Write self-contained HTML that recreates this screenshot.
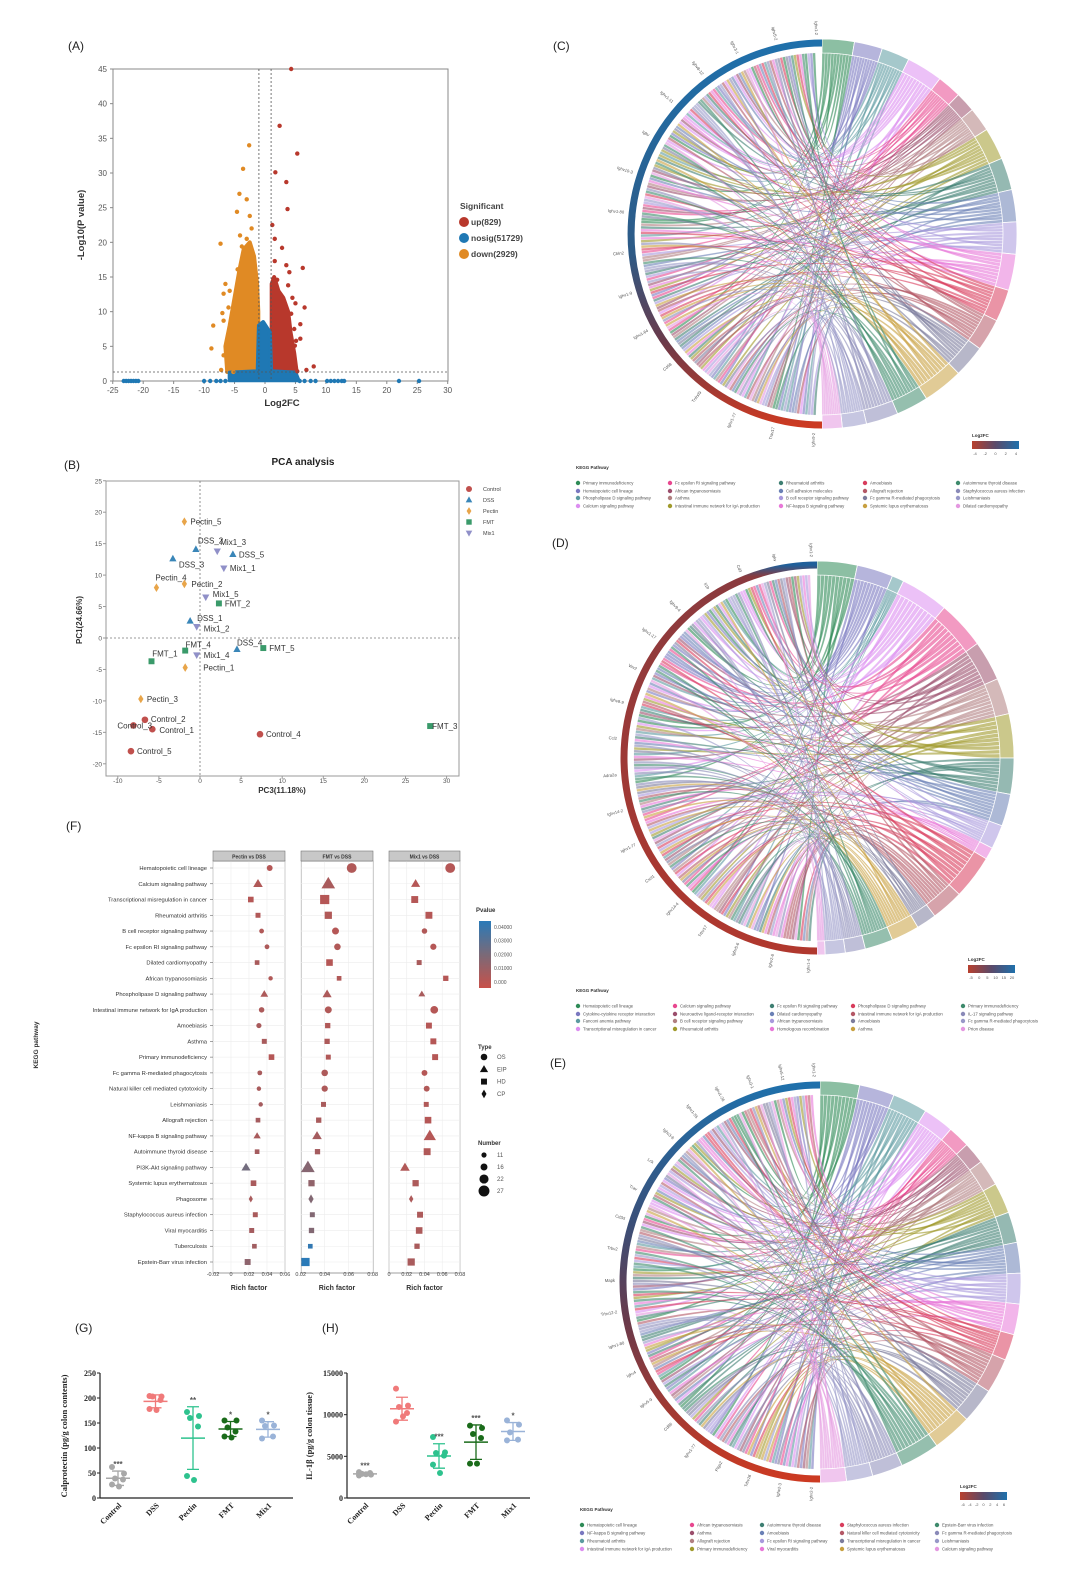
<!DOCTYPE html>
<html><head><meta charset="utf-8">
<style>
html,body{margin:0;padding:0;background:#fff;}
svg{display:block;font-family:"Liberation Sans",sans-serif;}
</style></head>
<body>
<svg id="fig" width="1080" height="1579" viewBox="0 0 1080 1579" xmlns="http://www.w3.org/2000/svg">
<defs>
<linearGradient id="gC" x1="0" y1="0" x2="0" y2="1"><stop offset="0" stop-color="#1f70ab"/><stop offset="0.55" stop-color="#2d5a86"/><stop offset="0.78" stop-color="#6a3a4a"/><stop offset="1" stop-color="#cc3a22"/></linearGradient>
<linearGradient id="gD" x1="0" y1="0" x2="0" y2="1"><stop offset="0" stop-color="#1f5f9a"/><stop offset="0.03" stop-color="#8a3a3e"/><stop offset="1" stop-color="#b0382e"/></linearGradient>
<linearGradient id="gE" x1="0" y1="0" x2="0" y2="1"><stop offset="0" stop-color="#1f70ab"/><stop offset="0.35" stop-color="#3a4f78"/><stop offset="0.6" stop-color="#6a3a4a"/><stop offset="1" stop-color="#cc3a22"/></linearGradient>
<linearGradient id="cbH" x1="0" y1="0" x2="1" y2="0"><stop offset="0" stop-color="#b8402e"/><stop offset="0.5" stop-color="#5a4a6a"/><stop offset="1" stop-color="#1f70ab"/></linearGradient>
<linearGradient id="cbV" x1="0" y1="1" x2="0" y2="0"><stop offset="0" stop-color="#c8514a"/><stop offset="0.5" stop-color="#7a6a78"/><stop offset="1" stop-color="#2a7ab8"/></linearGradient>
</defs>
<text x="68" y="50" font-size="12" fill="#222">(A)</text>
<text x="553" y="50" font-size="12" fill="#222">(C)</text>
<text x="64" y="469" font-size="12" fill="#222">(B)</text>
<text x="552" y="547" font-size="12" fill="#222">(D)</text>
<text x="66" y="830" font-size="12" fill="#222">(F)</text>
<text x="550" y="1067" font-size="12" fill="#222">(E)</text>
<text x="75" y="1332" font-size="12" fill="#222">(G)</text>
<text x="322" y="1332" font-size="12" fill="#222">(H)</text>
<g id="volcano"></g>
<g id="pca"></g>
<g id="chordC"></g>
<g id="chordD"></g>
<g id="chordE"></g>
<g id="kegg"></g>
<g id="calpro"></g>
<g id="il1b"></g>
</svg>
<script>
const NS='http://www.w3.org/2000/svg';
function mk(t,a,p){const e=document.createElementNS(NS,t);for(const k in a)e.setAttribute(k,a[k]);if(p)p.appendChild(e);return e;}
function tx(s,a,p){const e=mk('text',a,p);e.textContent=s;return e;}

/* ---------------- Volcano data ---------------- */
const volUpX=[4.3,2.4,5.3,1.7,3.5,3.7,1.2,1.6,2.8,1.6,3.5,6.2,4.0,2.0,3.8,4.5,5.0,6.5,4.3,5.8,4.8,5.8,5.1,4.9,6.8,8.0,5.3];
const volUpY=[45,36.8,32.8,30.1,28.7,24.8,22.5,20.5,19.2,17.3,16.7,16.3,15.7,14.6,13.8,12.0,11.2,10.6,9.7,8.2,7.5,6.1,5.8,5.1,1.6,2.1,1.4];
const volDownX=[-2.6,-3.6,-4.2,-3.0,-4.6,-2.5,-7.3,-3.8,-4.5,-6.5,-5.8,-6.8,-6.0,-7.0,-8.5,-6.8,-8.8,-6.8,-7.2,-5.2,-3.0,-2.2,-4.1];
const volDownY=[34,30.6,27,26.2,24.4,23.8,19.8,19.4,16.1,14.0,13.0,12.6,10.6,9.8,8.0,8.7,4.7,3.7,1.6,1.3,20.5,22.0,21.0];
const volNsX=[-23.2,-22.8,-22.4,-22,-21.6,-21.2,-20.8,-10,-9,-8,-7.3,-6.5,5.7,6.5,7.5,8.3,10.2,10.8,11.4,12,12.6,13,22,25.3];
const volNsY=[0,0,0,0,0,0,0,0,0,0,0,0,0,0,0,0,0,0,0,0,0,0,0,0];
const volDownAreaX=[-6.2,-6.5,-5.8,-5,-4.2,-3.5,-2.5,-1.8,-1.3,-1.1,-1.1];
const volDownAreaY=[1.3,5,8,12,16,19,20,18,14,10,1.3];
const volUpAreaX=[1.1,1.1,1.5,2.2,3,3.8,4.2,4.8,5.2];
const volUpAreaY=[1.3,14,15,13,12,10,7,4,1.3];
const volNsAreaX=[-5.8,-5.8,-1.2,-1,-0.3,0.8,1,5,5.5];
const volNsAreaY=[0.1,1.2,1.4,8,8.5,7,1.4,1.2,0.1];
const volXTicks=[-25,-20,-15,-10,-5,0,5,10,15,20,25,30];
const volYTicks=[0,5,10,15,20,25,30,35,40,45];
(function(){
 const g=document.getElementById('volcano');
 const X=v=>265+v*6.09, Y=v=>381-v*(312/45);
 const C_UP='#b8382c',C_DN='#e08a24',C_NS='#1f78b4';
 const fr=mk('rect',{x:113,y:69,width:335,height:312,fill:'none',stroke:'#888','stroke-width':1},g);
 
 
 volXTicks.forEach(t=>{const l=tx(String(t),{x:X(t),y:393,'font-size':8,'text-anchor':'middle',fill:'#555'},g);
  
  
  mk('line',{x1:X(t),x2:X(t),y1:381,y2:384,stroke:'#888'},g);});
 volYTicks.forEach(t=>{const l=tx(String(t),{x:107,y:Y(t)+3,'font-size':8,'text-anchor':'end',fill:'#555'},g);
  
  
  mk('line',{x1:110,x2:113,y1:Y(t),y2:Y(t),stroke:'#888'},g);});
 const xt=tx('Log2FC',{x:282,y:406,'font-size':9.5,'font-weight':'bold','text-anchor':'middle',fill:'#333'},g);
 
 
 const yt=tx('-Log10(P value)',{x:0,y:0,'font-size':9.5,'font-weight':'bold','text-anchor':'middle',fill:'#333',transform:'translate(84,225) rotate(-90)'},g);
 
 
 function area(xs,ys,c,nm){const pts=xs.map((x,i)=>X(x)+','+Y(ys[i])).join(' ');
  const p=mk('polygon',{points:pts,fill:c,stroke:c,'stroke-width':4,'stroke-linejoin':'round'},g);
  
  }
 area(volDownAreaX,volDownAreaY,C_DN,'down-density');
 area(volUpAreaX,volUpAreaY,C_UP,'up-density');
 area(volNsAreaX,volNsAreaY,C_NS,'nosig-density');
 function pts(xs,ys,c,nm){xs.forEach((x,i)=>{const d=mk('circle',{cx:X(x),cy:Y(ys[i]),r:2.2,fill:c},g);
  
  });}
 pts(volDownX,volDownY,C_DN,'down-point');pts(volUpX,volUpY,C_UP,'up-point');pts(volNsX,volNsY,C_NS,'nosig-point');
 [-1,1].forEach(v=>mk('line',{x1:X(v),x2:X(v),y1:69,y2:381,stroke:'#555','stroke-dasharray':'2,2','stroke-width':0.8},g));
 mk('line',{x1:113,x2:448,y1:Y(1.3),y2:Y(1.3),stroke:'#555','stroke-dasharray':'2,2','stroke-width':0.8},g);
 const lt=tx('Significant',{x:460,y:209,'font-size':8.5,'font-weight':'bold',fill:'#444'},g);
 
 
 [['up(829)',C_UP],['nosig(51729)',C_NS],['down(2929)',C_DN]].forEach((it,i)=>{
  const c=mk('circle',{cx:464,cy:222+i*16,r:5,fill:it[1]},g);
  
  
  const t=tx(it[0],{x:471,y:225+i*16,'font-size':8.5,'font-weight':'bold',fill:'#444'},g);
  
  });
})();

/* ---------------- PCA data ---------------- */
const pcaNames=['Control_1','Control_2','Control_3','Control_4','Control_5','DSS_1','DSS_2','DSS_3','DSS_4','DSS_5','Pectin_1','Pectin_2','Pectin_3','Pectin_4','Pectin_5','FMT_1','FMT_2','FMT_3','FMT_4','FMT_5','Mix1_1','Mix1_2','Mix1_3','Mix1_4','Mix1_5'];
const pcaGroup=[0,0,0,0,0,1,1,1,1,1,2,2,2,2,2,3,3,3,3,3,4,4,4,4,4];
const pcaX=[-5.8,-6.7,-8.1,7.3,-8.4,-1.2,-0.5,-3.3,4.5,4.0,-1.8,-1.9,-7.2,-5.3,-1.9,-1.8,2.3,28,-5.9,7.7,2.9,-0.4,2.1,-0.4,0.7];
const pcaY=[-14.5,-13,-13.9,-15.3,-18,2.7,14.1,12.6,-1.8,13.3,-4.7,8.6,-9.7,8,18.5,-2,5.5,-14,-3.7,-1.6,11.1,1.8,13.8,-2.7,6.5];
const pcaGroups=['Control','DSS','Pectin','FMT','Mix1'];
const pcaXTicks=[-10,-5,0,5,10,15,20,25,30];
const pcaYTicks=[-20,-15,-10,-5,0,5,10,15,20,25];
const pcaLabDx=[7,6,-16,6,6,7,2,6,0,6,18,7,6,-1,6,-33,6,2,34,6,6,7,3,7,7];
const pcaLabDy=[1,-1,0,0,0,-3,-9,6,-7,0,0,0,0,-10,0,3,0,0,-17,0,0,2,-9,0,-3];
(function(){
 const g=document.getElementById('pca');
 const X=v=>200+v*8.22, Y=v=>638-v*6.29;
 const cols=['#c0504d','#3a86b8','#e8a54a','#3a9a6a','#9090c8'];
 const fr=mk('rect',{x:106,y:481,width:353,height:295,fill:'none',stroke:'#999','stroke-width':1},g);
 
 
 const tt=tx('PCA analysis',{x:303,y:465,'font-size':10,'font-weight':'bold','text-anchor':'middle',fill:'#222'},g);
 
 
 pcaXTicks.forEach(t=>{const l=tx(String(t),{x:X(t),y:783,'font-size':6.5,'text-anchor':'middle',fill:'#555'},g);
  
  
  mk('line',{x1:X(t),x2:X(t),y1:776,y2:779,stroke:'#999'},g);});
 pcaYTicks.forEach(t=>{const l=tx(String(t),{x:102,y:Y(t)+2.5,'font-size':6.5,'text-anchor':'end',fill:'#555'},g);
  
  
  mk('line',{x1:103,x2:106,y1:Y(t),y2:Y(t),stroke:'#999'},g);});
 mk('line',{x1:X(0),x2:X(0),y1:481,y2:776,stroke:'#777','stroke-dasharray':'2,2','stroke-width':0.8},g);
 mk('line',{x1:106,x2:459,y1:Y(0),y2:Y(0),stroke:'#777','stroke-dasharray':'2,2','stroke-width':0.8},g);
 const xt=tx('PC3(11.18%)',{x:282,y:793,'font-size':8,'font-weight':'bold','text-anchor':'middle',fill:'#333'},g);
 
 
 const yt=tx('PC1(24.66%)',{x:0,y:0,'font-size':8,'font-weight':'bold','text-anchor':'middle',fill:'#333',transform:'translate(82,620) rotate(-90)'},g);
 
 
 function marker(k,x,y,s,par){const c=cols[k];let e;
  if(k===0)e=mk('circle',{cx:x,cy:y,r:s,fill:c},par);
  else if(k===1)e=mk('polygon',{points:`${x},${y-s*1.2} ${x-s*1.1},${y+s*0.8} ${x+s*1.1},${y+s*0.8}`,fill:c},par);
  else if(k===2)e=mk('polygon',{points:`${x},${y-s*1.3} ${x-s*0.8},${y} ${x},${y+s*1.3} ${x+s*0.8},${y}`,fill:c},par);
  else if(k===3)e=mk('rect',{x:x-s*0.9,y:y-s*0.9,width:s*1.8,height:s*1.8,fill:c},par);
  else e=mk('polygon',{points:`${x},${y+s*1.2} ${x-s*1.1},${y-s*0.8} ${x+s*1.1},${y-s*0.8}`,fill:c},par);
  return e;}
 pcaNames.forEach((n,i)=>{const px=X(pcaX[i]),py=Y(pcaY[i]);
  const m=marker(pcaGroup[i],px,py,3.3,g);
  
  
  const l=tx(n,{x:px+pcaLabDx[i],y:py+pcaLabDy[i]+3,'font-size':8,fill:'#333'},g);
  
  });
 pcaGroups.forEach((n,k)=>{const m=marker(k,469,489+k*11,3,g);
  
  
  const t=tx(n,{x:483,y:491+k*11,'font-size':5.5,fill:'#444'},g);
  
  });
})();

/* ---------------- Chord diagrams ---------------- */
const segColors=['#2e8b57','#7a78c0','#5b9aa0','#dc8ef0','#e8478f','#9b4e6c','#b07f80','#a09a2c','#3e7f72','#6a80b5','#a898dc','#e878d8','#d83c5c','#b45866','#7c7c9c','#c8a040','#3e8a6c','#8a8ab8','#9898c8','#e498e0'];
const segWeightsC=[8,7,7,9,6,5,6,8,8,8,8,9,8,8,8,10,8,8,6,5];
const segWeightsD=[10,9,3,12,12,10,9,11,9,8,6,3,11,8,5,7,7,5,5,2];
const segWeightsE=[9,8,8,7,5,5,6,7,7,7,7,7,6,8,8,9,9,7,6,6];
const legC=[['Primary immunodeficiency','Hematopoietic cell lineage','Phospholipase D signaling pathway','Calcium signaling pathway'],['Fc epsilon RI signaling pathway','African trypanosomiasis','Asthma','Intestinal immune network for IgA production'],['Rheumatoid arthritis','Cell adhesion molecules','B cell receptor signaling pathway','NF-kappa B signaling pathway'],['Amoebiasis','Allograft rejection','Fc gamma R-mediated phagocytosis','Systemic lupus erythematosus'],['Autoimmune thyroid disease','Staphylococcus aureus infection','Leishmaniasis','Dilated cardiomyopathy']];
const legD=[['Hematopoietic cell lineage','Cytokine-cytokine receptor interaction','Fanconi anemia pathway','Transcriptional misregulation in cancer'],['Calcium signaling pathway','Neuroactive ligand-receptor interaction','B cell receptor signaling pathway','Rheumatoid arthritis'],['Fc epsilon RI signaling pathway','Dilated cardiomyopathy','African trypanosomiasis','Homologous recombination'],['Phospholipase D signaling pathway','Intestinal immune network for IgA production','Amoebiasis','Asthma'],['Primary immunodeficiency','IL-17 signaling pathway','Fc gamma R-mediated phagocytosis','Prion disease']];
const legE=[['Hematopoietic cell lineage','NF-kappa B signaling pathway','Rheumatoid arthritis','Intestinal immune network for IgA production'],['African trypanosomiasis','Asthma','Allograft rejection','Primary immunodeficiency'],['Autoimmune thyroid disease','Amoebiasis','Fc epsilon RI signaling pathway','Viral myocarditis'],['Staphylococcus aureus infection','Natural killer cell mediated cytotoxicity','Transcriptional misregulation in cancer','Systemic lupus erythematosus'],['Epstein-Barr virus infection','Fc gamma R-mediated phagocytosis','Leishmaniasis','Calcium signaling pathway']];
const genesC=['Ighv1-2','Ighv5-2','Ighv3-1','Ighv8-12','Ighv1-11','Igkv','Ighv10-3','Ighv1-80','Cbln2','Ighv1-9','Ighv1-64','Cd68','Tnfrsf9','Ighv1-77','Trav17','Ighv9-2'];
const genesD=['Ighv1-2','Igkv','Cd3','Il1b','Ighv9-4','Ighv1-17','Vav2','Ighv8-9','Ccl2','Adra2a','Ighv14-2','Ighv1-77','Cxcl1','Ighv14-4','Trbv17','Ighv5-6','Ighv2-6','Ighv1-4'];
const genesE=['Ighv1-2','Ighv5-12','Ighv3-1','Ighv1-26','Ighv1-55','Ighv3-6','Lck','Trav','Cd3d','Trbv2','Mapk','Trbv12-2','Ighv1-80','Igkv4','Ighv5-9','Cd86','Ighv1-77','Ptgs2','Trbv16','Ighv2-3','Ighv2-2'];
function chord(id,cx,cy,r,grad,weights,seed,legend,legX,legY,genes,cb){
 const g=document.getElementById(id);
 let s=seed;const rnd=()=>{s=(s*1103515245+12345)%2147483648;return s/2147483648;};
 const P=(a,rad)=>[cx+rad*Math.sin(a*Math.PI/180),cy-rad*Math.cos(a*Math.PI/180)];
 const ri=r-14;
 const tot=weights.reduce((a,b)=>a+b,0);
 const segs=[];let a=0;
 weights.forEach((w,i)=>{const sp=w/tot*180;segs.push([a,a+sp,segColors[i%segColors.length]]);a+=sp;});
 const subs=[];
 segs.forEach(sg=>{const m=10;for(let k=0;k<m;k++){const s1=sg[0]+(sg[1]-sg[0])*(k+0.1)/m,s2=sg[0]+(sg[1]-sg[0])*(k+0.9)/m;subs.push([s1,s2,sg[2],rnd()]);}});
 const order=subs.slice().sort((p,q)=>p[3]-q[3]);
 const lw=(358-182)/order.length;
 const rg=mk('g',{},g);
 
 
 const cr=ri*0.3;
 order.forEach((sb,j)=>{const b1=182+j*lw,b2=b1+lw*0.8;
  const am=(sb[0]+sb[1])/2, bm=(b1+b2)/2;
  const A1=P(sb[0],ri),A2=P(sb[1],ri),B1=P(b1,ri),B2=P(b2,ri);
  const CA=P(am,cr),CB=P(bm,cr);
  const d=`M${A1} A${ri},${ri} 0 0 1 ${A2} C${CA} ${CB} ${B1} A${ri},${ri} 0 0 1 ${B2} C${CB} ${CA} ${A1}Z`;
  const p=mk('path',{d:d,fill:sb[2],'fill-opacity':0.6,stroke:sb[2],'stroke-opacity':0.35,'stroke-width':0.3},rg);
  
  });
 segs.forEach(sg=>{const o1=P(sg[0],r),o2=P(sg[1],r),i1=P(sg[0],ri),i2=P(sg[1],ri);
  const p=mk('path',{d:`M${o1} A${r},${r} 0 0 1 ${o2} L${i2} A${ri},${ri} 0 0 0 ${i1}Z`,fill:sg[2],'fill-opacity':0.55,stroke:'#fff','stroke-width':0.8},g);
  
  });
 const t0=P(180,r-4),t1=P(360,r-4);
 const ga=mk('path',{d:`M${t0} A${r-4},${r-4} 0 0 1 ${t1}`,fill:'none',stroke:`url(#${grad})`,'stroke-width':7},g);
 
 
 genes.forEach((n,i)=>{const ang=358-i*(176/(genes.length-1));const q=P(ang,r+4);
  const t=tx(n,{x:q[0],y:q[1],'font-size':4.2,fill:'#555','text-anchor':'end',transform:`rotate(${ang+90} ${q[0]} ${q[1]})`},g);
  
  });
 const kt=tx('KEGG Pathway',{x:legX[0]-2,y:legY[0]-14,'font-size':4.5,'font-weight':'bold',fill:'#333'},g);
 
 
 legend.forEach((col,c)=>col.forEach((n,rw)=>{const x=legX[c],y=legY[rw];
  const d=mk('circle',{cx:x,cy:y,r:2.2,fill:segColors[(c*4+rw)%segColors.length]},g);
  
  
  const t=tx(n,{x:x+5,y:y+1.6,'font-size':4.3,fill:'#555'},g);
  
  }));
 const lt=tx('Log2FC',{x:cb[0],y:cb[1]-4,'font-size':4.5,'font-weight':'bold',fill:'#333'},g);
 
 
 const bar=mk('rect',{x:cb[0],y:cb[1],width:47,height:8,fill:'url(#cbH)'},g);
 
 
 cb[2].forEach((l,i)=>{const t=tx(l,{x:cb[0]+3+i*(41/(cb[2].length-1)),y:cb[1]+14,'font-size':4,'text-anchor':'middle',fill:'#555'},g);
  
  });
}
chord('chordC',822,234,195,'gC',segWeightsC,7,legC,[578,670,781,865,958],[483,491,498,506],genesC,[972,441,['-4','-2','0','2','4']]);
chord('chordD',817,758,197,'gD',segWeightsD,19,legD,[578,675,772,853,963],[1006,1014,1021,1029],genesD,[968,965,['-5','0','5','10','15','20']]);
chord('chordE',820,1282,201,'gE',segWeightsE,31,legE,[582,692,762,842,937],[1525,1533,1541,1549],genesE,[960,1492,['-6','-4','-2','0','2','4','6']]);

/* ---------------- KEGG enrichment dot plot ---------------- */
const keggPathways=['Hematopoietic cell lineage','Calcium signaling pathway','Transcriptional misregulation in cancer','Rheumatoid arthritis','B cell receptor signaling pathway','Fc epsilon RI signaling pathway','Dilated cardiomyopathy','African trypanosomiasis','Phospholipase D signaling pathway','Intestinal immune network for IgA production','Amoebiasis','Asthma','Primary immunodeficiency','Fc gamma R-mediated phagocytosis','Natural killer cell mediated cytotoxicity','Leishmaniasis','Allograft rejection','NF-kappa B signaling pathway','Autoimmune thyroid disease','PI3K-Akt signaling pathway','Systemic lupus erythematosus','Phagosome','Staphylococcus aureus infection','Viral myocarditis','Tuberculosis','Epstein-Barr virus infection'];
const rfPectin=[0.043,0.030,0.022,0.030,0.034,0.040,0.029,0.044,0.037,0.034,0.031,0.037,0.045,0.032,0.031,0.033,0.030,0.029,0.029,0.0167,0.025,0.022,0.027,0.023,0.026,0.0185];
const rfFMT=[0.0625,0.043,0.040,0.043,0.049,0.0506,0.044,0.052,0.042,0.043,0.0425,0.042,0.043,0.040,0.040,0.039,0.035,0.0336,0.034,0.026,0.029,0.0286,0.0297,0.029,0.028,0.024];
const rfMix1=[0.069,0.030,0.029,0.045,0.040,0.050,0.034,0.064,0.037,0.051,0.045,0.050,0.052,0.040,0.0425,0.042,0.044,0.046,0.043,0.018,0.030,0.025,0.035,0.034,0.0316,0.025];
const typePectin=['c','t','s','s','c','c','s','c','t','c','c','s','s','c','c','c','s','t','s','t','s','d','s','s','s','s'];
const typeFMT=['c','t','s','s','c','c','s','s','t','c','s','s','s','c','c','s','s','t','s','t','s','d','s','s','s','s'];
const typeMix1=['c','t','s','s','c','c','s','s','t','c','s','s','s','c','c','s','s','t','s','t','s','d','s','s','s','s'];
const numPectin=[13,18,14,12,10,10,11,9,14,12,11,12,14,10,9,9,11,13,11,17,14,12,12,12,11,15];
const numFMT=[24,27,25,19,16,15,17,11,17,16,13,13,12,15,14,12,13,18,13,27,16,16,12,13,11,22];
const numMix1=[24,17,18,18,12,14,12,13,12,18,15,15,15,13,13,12,17,24,18,18,16,13,15,17,13,19];
const pvPectin=[.005,.006,.005,.006,.006,.007,.008,.006,.007,.007,.008,.008,.005,.008,.008,.009,.009,.008,.009,.022,.008,.008,.008,.009,.010,.015];
const pvFMT=[.006,.008,.005,.006,.005,.006,.005,.006,.007,.006,.006,.007,.006,.007,.007,.008,.008,.009,.009,.017,.014,.018,.018,.018,.038,.040];
const pvMix1=[.005,.005,.005,.005,.006,.005,.008,.005,.008,.005,.005,.005,.005,.005,.006,.006,.005,.005,.006,.006,.007,.007,.007,.007,.008,.008];
const panelTitles=['Pectin vs DSS','FMT vs DSS','Mix1 vs DSS'];
const panelTicks1=[-0.02,0,0.02,0.04,0.06];
const panelTicks2=[0.02,0.04,0.06,0.08];
const panelTicks3=[0,0.02,0.04,0.06,0.08];
const pvLegendTicks=['0.04000','0.03000','0.02000','0.01000','0.000'];
const typeLegend=['OS','EIP','HD','CP'];
const numLegend=[11,16,22,27];
(function(){
 const g=document.getElementById('kegg');
 const top=861,bot=1273,row0=868,rowH=15.76;
 const rowY=i=>row0+i*rowH;
 const rad=n=>0.6+n*0.18;
 function pcol(p){const t=Math.min(p/0.04,1);const a=[200,81,74],m=[122,106,120],b=[42,122,184];
  let c;if(t<0.5){const u=t/0.5;c=a.map((v,i)=>Math.round(v+(m[i]-v)*u));}else{const u=(t-0.5)/0.5;c=m.map((v,i)=>Math.round(v+(b[i]-v)*u));}
  return `rgb(${c[0]},${c[1]},${c[2]})`;}
 function shape(t,x,y,s,c){
  if(t==='c')return mk('circle',{cx:x,cy:y,r:s,fill:c},g);
  if(t==='t')return mk('polygon',{points:`${x},${y-s*1.25} ${x-s*1.25},${y+s*0.85} ${x+s*1.25},${y+s*0.85}`,fill:c},g);
  if(t==='s')return mk('rect',{x:x-s*0.9,y:y-s*0.9,width:s*1.8,height:s*1.8,fill:c},g);
  return mk('polygon',{points:`${x},${y-s*1.3} ${x-s*0.75},${y} ${x},${y+s*1.3} ${x+s*0.75},${y}`,fill:c},g);}
 const panels=[
  {x0:213,x1:285,X:v=>231+v*900,ticks:panelTicks1,rf:rfPectin,ty:typePectin,n:numPectin,pv:pvPectin},
  {x0:301,x1:373,X:v=>300.7+(v-0.02)*1200,ticks:panelTicks2,rf:rfFMT,ty:typeFMT,n:numFMT,pv:pvFMT},
  {x0:389,x1:460,X:v=>389+v*887,ticks:panelTicks3,rf:rfMix1,ty:typeMix1,n:numMix1,pv:pvMix1}];
 panels.forEach((pn,k)=>{
  const bg=mk('rect',{x:pn.x0,y:top,width:pn.x1-pn.x0,height:bot-top,fill:'#fff',stroke:'#888','stroke-width':0.8},g);
  
  
  pn.ticks.forEach(t=>{mk('line',{x1:pn.X(t),x2:pn.X(t),y1:top,y2:bot,stroke:'#ececec','stroke-width':0.6},g);
   const l=tx(String(t),{x:pn.X(t),y:1276,'font-size':5.5,'text-anchor':'middle',fill:'#444'},g);
   
   });
  keggPathways.forEach((p,i)=>mk('line',{x1:pn.x0,x2:pn.x1,y1:rowY(i),y2:rowY(i),stroke:'#ececec','stroke-width':0.6},g));
  const st=mk('rect',{x:pn.x0,y:851,width:pn.x1-pn.x0,height:10,fill:'#c8c8c8',stroke:'#777','stroke-width':0.6},g);
  
  
  const sl=tx(panelTitles[k],{x:(pn.x0+pn.x1)/2,y:858.5,'font-size':5,'font-weight':'bold','text-anchor':'middle',fill:'#333'},g);
  
  
  const xl=tx('Rich factor',{x:(pn.x0+pn.x1)/2,y:1290,'font-size':7,'font-weight':'bold','text-anchor':'middle',fill:'#333'},g);
  
  
  pn.rf.forEach((v,i)=>{const m=shape(pn.ty[i],pn.X(v),rowY(i),rad(pn.n[i]),pcol(pn.pv[i]));
   
   });
 });
 keggPathways.forEach((p,i)=>{const t=tx(p,{x:207,y:rowY(i)+2,'font-size':5.8,'text-anchor':'end',fill:'#333'},g);
  
  
  mk('line',{x1:210,x2:213,y1:rowY(i),y2:rowY(i),stroke:'#666','stroke-width':0.6},g);});
 const yt=tx('KEGG pathway',{x:0,y:0,'font-size':6.5,'font-weight':'bold','text-anchor':'middle',fill:'#333',transform:'translate(38,1045) rotate(-90)'},g);
 
 
 const pt=tx('Pvalue',{x:476,y:912,'font-size':6,'font-weight':'bold',fill:'#333'},g);
 
 
 const cb=mk('rect',{x:479,y:921,width:12,height:67,fill:'url(#cbV)'},g);
 
 
 pvLegendTicks.forEach((l,i)=>{const t=tx(l,{x:494,y:929+i*13.7,'font-size':5,fill:'#555'},g);
  
  });
 const tt=tx('Type',{x:478,y:1049,'font-size':6,'font-weight':'bold',fill:'#333'},g);
 
 
 ['c','t','s','d'].forEach((s,i)=>{const m=shape(s,484,1057+i*12.3,3.3,'#111');
  
  
  const t=tx(typeLegend[i],{x:497,y:1059+i*12.3,'font-size':6,fill:'#555'},g);
  
  });
 const nt=tx('Number',{x:478,y:1145,'font-size':6,'font-weight':'bold',fill:'#333'},g);
 
 
 numLegend.forEach((n,i)=>{const m=mk('circle',{cx:484,cy:1155+i*12,r:rad(n),fill:'#111'},g);
  
  
  const t=tx(String(n),{x:497,y:1157+i*12,'font-size':6,fill:'#555'},g);
  
  });
})();

/* ---------------- Dot plots G & H ---------------- */
const groupNames=['Control','DSS','Pectin','FMT','Mix1'];
const groupColors=['#a8a8a8','#f07a7a','#2ec28e','#1a6b1a','#9ab3d8'];
const calControl=[62,49,39,37,27,23];
const calDSS=[204,203,203,196,178,176];
const calPectin=[172,164,160,143,44,36];
const calFMT=[155,155,141,133,123,121];
const calMix1=[155,145,144,123,119];
const calStars=['***','','**','*','*'];
const calTicks=[0,50,100,150,200,250];
const ilControl=[2700,2800,2900,3000,3100,2850];
const ilDSS=[13120,11080,10920,10200,9160,9800];
const ilPectin=[7320,5480,5400,5080,4000,3000];
const ilFMT=[8680,8400,7680,7200,4120,4120];
const ilMix1=[9320,8800,7880,7000,6920];
const ilStars=['***','','***','***','*'];
const ilTicks=[0,5000,10000,15000];
const jitter=[-6,6,-3,5,-6,1];
function dotplot(id,ax,xRight,cat0,catStep,ymax,ticks,series,stars,ytitle,ytitleX){
 const g=document.getElementById(id);
 const Y=v=>1498-v*(125/ymax);
 const ya=mk('line',{x1:ax,x2:ax,y1:1373,y2:1498,stroke:'#222','stroke-width':1.2},g);
 
 
 const xa=mk('line',{x1:ax,x2:xRight,y1:1498,y2:1498,stroke:'#222','stroke-width':1.2},g);
 
 
 ticks.forEach(t=>{mk('line',{x1:ax-3,x2:ax,y1:Y(t),y2:Y(t),stroke:'#222'},g);
  const l=tx(String(t),{x:ax-4,y:Y(t)+3,'font-size':8,'font-weight':'bold','text-anchor':'end',fill:'#222','font-family':'Liberation Serif, serif'},g);
  
  });
 const yt=tx(ytitle,{x:0,y:0,'font-size':8.5,'font-weight':'bold','text-anchor':'middle',fill:'#222','font-family':'Liberation Serif, serif',transform:`translate(${ytitleX},1436) rotate(-90)`},g);
 
 
 series.forEach((vals,k)=>{const cx=cat0+k*catStep,c=groupColors[k];
  const mean=vals.reduce((a,b)=>a+b,0)/vals.length;
  const sd=Math.sqrt(vals.reduce((a,b)=>a+(b-mean)*(b-mean),0)/(vals.length-1));
  vals.forEach((v,i)=>{const d=mk('circle',{cx:cx+jitter[i%jitter.length],cy:Y(v),r:3,fill:c},g);
   
   });
  const ml=mk('line',{x1:cx-12,x2:cx+12,y1:Y(mean),y2:Y(mean),stroke:c,'stroke-width':1.5},g);
  
  
  const eb=mk('path',{d:`M${cx},${Y(mean+sd)}V${Y(mean-sd)}M${cx-6},${Y(mean+sd)}H${cx+6}M${cx-6},${Y(mean-sd)}H${cx+6}`,stroke:c,'stroke-width':1.3,fill:'none'},g);
  
  
  if(stars[k]){const st=tx(stars[k],{x:cx,y:Y(mean+sd)-4,'font-size':8,'font-weight':'bold','text-anchor':'middle',fill:'#555'},g);
   
   }
  const xl=tx(groupNames[k],{x:0,y:0,'font-size':8,'font-weight':'bold','text-anchor':'end',fill:'#222','font-family':'Liberation Serif, serif',transform:`translate(${cx+4},1506) rotate(-45)`},g);
  
  
 });
}
dotplot('calpro',100,293,118,37.5,250,calTicks,[calControl,calDSS,calPectin,calFMT,calMix1],calStars,'Calprotectin (pg/g colon contents)',67);
dotplot('il1b',347,530,365,37,15000,ilTicks,[ilControl,ilDSS,ilPectin,ilFMT,ilMix1],ilStars,'IL-1β (pg/g colon tissue)',312);
</script>
</body></html>
